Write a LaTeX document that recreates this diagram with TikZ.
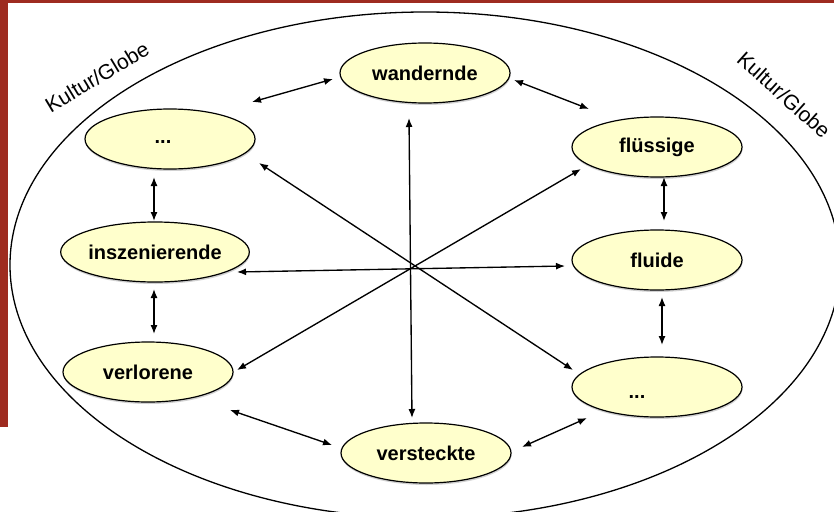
\documentclass[tikz,border=0pt]{standalone}
\usepackage{fontspec}
\setmainfont{Liberation Sans}
\usetikzlibrary{arrows.meta,calc,shapes.geometric,shadows}
\definecolor{barred}{RGB}{158,43,32}
\definecolor{nodefill}{RGB}{255,255,204}
\tikzset{
  blob/.style={ellipse,draw=black,line width=1.2pt,fill=nodefill,
    minimum width=170pt,minimum height=60pt,inner sep=0pt,outer sep=0pt,
    font=\fontsize{20}{22}\selectfont\bfseries,
    general shadow={shadow xshift=0.5pt,shadow yshift=-2pt,fill=black!18}},
  dots/.style={font=\fontsize{20}{22}\selectfont\bfseries,inner sep=0pt},
  globe/.style={font=\fontsize{21}{24}\selectfont,inner sep=0pt},
  dbl/.style={line width=1.35pt,{Latex[length=9pt,width=7pt]}-{Latex[length=9pt,width=7pt]}},
}
\begin{document}
\begin{tikzpicture}[x=1pt,y=-1pt]
\useasboundingbox (0,0) rectangle (834,511);
\clip (0,0) rectangle (834,511);
\fill[white] (0,0) rectangle (834,511);
% frame decorations
\fill[barred] (0,0) rectangle (8,427);
\fill[barred] (8,0.5) rectangle (834,3.5);
% big globe
\draw[line width=1.3pt] (425,265) ellipse [x radius=415pt, y radius=253pt];
\node[globe,rotate=31] (lg) at (97,77) {Kultur/Globe};
\node[globe,rotate=-42] (rg) at (784,95) {Kultur/Globe};
% nodes
\node[blob] (TL) at (170,139) {};
\node[blob] (W)  at (425,73)  {wandernde};
\node[blob] (FL) at (657,147) {flüssige};
\node[blob] (IN) at (155,252) {inszenierende};
\node[blob] (FD) at (657,260) {fluide};
\node[blob] (VL) at (148,372) {verlorene};
\node[blob] (BR) at (657,387) {};
\node[blob] (VS) at (426,453) {versteckte};
\node[dots] (tld) at ($(TL)+(-7,3)$) {...};
\node[dots] (brd) at ($(BR)+(-20,10)$) {...};
% spokes through the centre
\draw[dbl] ($(TL)+(89,24)$) -- ($(BR)+(-84,-17)$);
\draw[dbl] ($(W)+(-16,45)$) -- ($(VS)+(-14,-35)$);
\draw[dbl] ($(FL)+(-76,22)$) -- ($(VL)+(89,-2)$);
\draw[dbl] ($(IN)+(82,20)$) -- ($(FD)+(-92,6)$);
% ring arrows
\draw[dbl] ($(TL)+(82,-37)$) -- ($(W)+(-92,6)$);
\draw[dbl] ($(W)+(89,7)$) -- ($(FL)+(-68,-38)$);
\draw[dbl] ($(TL)+(-16,38)$) -- ($(IN)+(-1,-31)$);
\draw[dbl] ($(IN)+(-1,37)$) -- ($(VL)+(6,-38)$);
\draw[dbl] ($(FL)+(7,30)$) -- ($(FD)+(7,-39)$);
\draw[dbl] ($(FD)+(5,37)$) -- ($(BR)+(5,-42)$);
\draw[dbl] ($(VL)+(82,38)$) -- ($(VS)+(-94,-8)$);
\draw[dbl] ($(VS)+(96,-6)$) -- ($(BR)+(-70,31)$);
\end{tikzpicture}
\end{document}
